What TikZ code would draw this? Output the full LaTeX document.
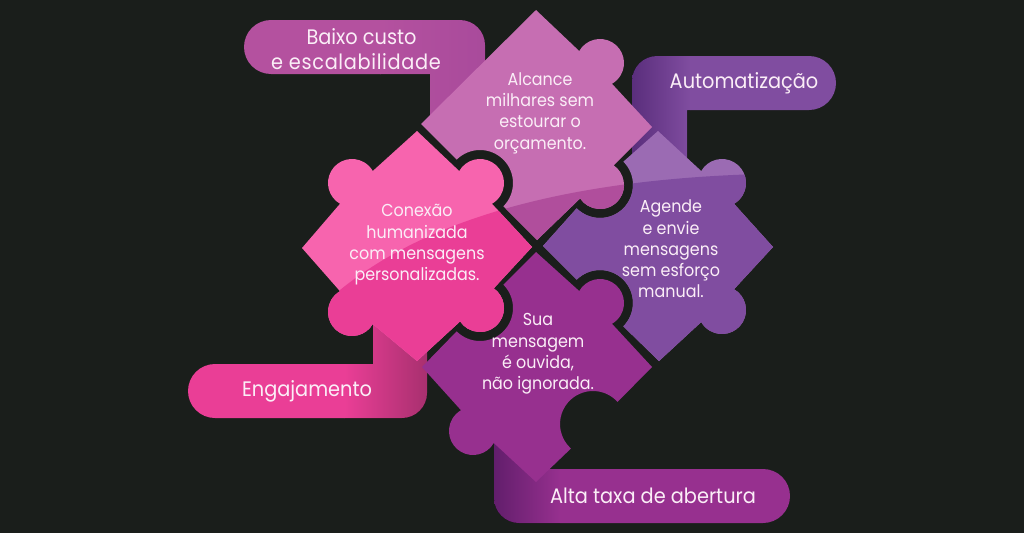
\documentclass[tikz,border=0pt]{standalone}
\usepackage{fontspec}
\setmainfont[FakeStretch=0.92]{Poppins}
\definecolor{bgc}{HTML}{1A1E1B}
\definecolor{topL}{HTML}{C66EB2}
\definecolor{topD}{HTML}{B04E9C}
\definecolor{pinkL}{HTML}{F764AE}
\definecolor{pinkD}{HTML}{EA3E96}
\definecolor{purL}{HTML}{9B6BB3}
\definecolor{purD}{HTML}{804DA0}
\definecolor{vio}{HTML}{97308F}
\definecolor{baixoC}{HTML}{B4519F}
\definecolor{baixoD}{HTML}{A84A9B}
\definecolor{autoD}{HTML}{5A2E7C}
\definecolor{engD}{HTML}{A8306F}
\definecolor{altaD}{HTML}{621E6C}
\definecolor{txt}{HTML}{FBEEF7}
% arc about a centre: cx, cy, r, start, end (y-down angles)
\newcommand{\arcat}[5]{-- ({#1+#3*cos(#4)},{#2+#3*sin(#4)}) arc[start angle=#4,end angle=#5,radius=#3]}
\newcommand{\pTop}{(536,10) \arcat{600}{63}{24}{-150}{60} -- (652,127) \arcat{600}{185}{24}{-55}{146} -- (537,240) \arcat{480}{183}{33}{45}{-135} -- (421,124) -- cycle}
\newcommand{\pPink}{(417,131) \arcat{480}{183}{24}{-150}{60} -- (532,247) \arcat{480}{308}{24}{-55}{146} -- (417,361) \arcat{352}{312}{24}{30}{240} -- (302,248) \arcat{352}{183}{24}{120}{330} -- cycle}
\newcommand{\pPur}{(658,131) \arcat{722}{183}{24}{-150}{60} -- (773,247) \arcat{722}{310}{24}{-60}{150} -- (659,361) \arcat{600}{303}{33}{45}{-135} -- (543,246) \arcat{600}{185}{33}{135}{-45} -- cycle}
\newcommand{\pVio}{(536,252) \arcat{600}{303}{24}{-150}{60} -- (652,367) \arcat{593}{424}{33}{-42}{-228} -- (536,482) \arcat{473}{431}{24}{30}{240} -- (422,367) \arcat{480}{308}{33}{135}{-45} -- cycle}
\newcommand{\bBaixo}{(271,20) -- (460,20) arc[start angle=-90,end angle=0,radius=25] -- (485,70) -- (430,125) -- (430,74) -- (271,74) arc[start angle=90,end angle=270,radius=27] -- cycle}
\newcommand{\bAuto}{(809,56) arc[start angle=-90,end angle=90,radius=27] -- (687,110) -- (687,175) -- (632,175) -- (632,81) arc[start angle=180,end angle=270,radius=25] -- cycle}
\newcommand{\bEng}{(215,364) -- (373,364) -- (373,320) -- (427,340) -- (427,393) arc[start angle=0,end angle=90,radius=25] -- (215,418) arc[start angle=90,end angle=270,radius=27] -- cycle}
\newcommand{\bAlta}{(763,469) arc[start angle=-90,end angle=90,radius=27] -- (519,523) arc[start angle=90,end angle=180,radius=25] -- (494,443) -- (520,445) -- (540,469) -- cycle}
\newcommand{\gloss}[1]{\fill[#1] (300,322) -- (340,290) .. controls (420,225) and (550,180) .. (760,174) -- (800,174) -- (800,520) -- (300,520) -- cycle;}
\tikzset{
  piecetext/.style={text=txt,align=center,font=\fontsize{17.3}{21.3}\selectfont},
  bartext/.style={text=txt,align=center,font=\fontsize{21}{25}\selectfont}
}
\begin{document}
\begin{tikzpicture}[x=1pt,y=-1pt]
\useasboundingbox (0,0) rectangle (1024,533);
\fill[bgc] (0,0) rectangle (1024,533);
% bars
\begin{scope}\clip \bBaixo; \fill[left color=baixoC,right color=baixoD] (380,0) rectangle (490,130); \fill[baixoC] (240,0) rectangle (380.5,130);\end{scope}
\begin{scope}\clip \bAuto; \fill[purD] (690,40) rectangle (840,180); \fill[left color=autoD,right color=purD] (632,40) rectangle (690.5,180);\end{scope}
\begin{scope}\clip \bEng; \fill[pinkD] (180,310) rectangle (345,420); \fill[left color=pinkD,right color=engD] (344.5,310) rectangle (427,420);\end{scope}
\begin{scope}\clip \bAlta; \fill[vio] (560,430) rectangle (800,530); \fill[left color=altaD,right color=vio] (494,430) rectangle (560.5,530);\end{scope}
% pieces
\fill[vio] \pVio;
\fill[purL] \pPur;
\begin{scope}\clip \pPur; \gloss{purD}\end{scope}
\fill[topL] \pTop;
\begin{scope}\clip \pTop; \gloss{topD}\end{scope}
\fill[pinkL] \pPink;
\begin{scope}\clip \pPink; \gloss{pinkD}\end{scope}
% texts
\node[piecetext] (t1) at (540,113) {Alcance\\milhares sem\\estourar o\\orçamento.};
\node[piecetext] (t2) at (417,245) {Conexão\\humanizada\\com mensagens\\personalizadas.};
\node[piecetext] (t3) at (671,249) {Agende\\e envie\\mensagens\\sem esforço\\manual.};
\node[piecetext] (t4) at (538,354) {Sua\\mensagem\\é ouvida,\\não ignorada.};
\node[bartext] (l1) at (356,49) {\hspace*{0pt}Baixo custo\hspace*{-11pt}\\{\addfontfeatures{LetterSpace=3.2}e escalabilidade}};
\node[bartext] (l2) at (744,83.5) {Automatização};
\node[bartext] (l3) at (307,391.5) {Engajamento};
\node[bartext] (l4) at (653,496) {Alta taxa de abertura};
\end{tikzpicture}
\end{document}
